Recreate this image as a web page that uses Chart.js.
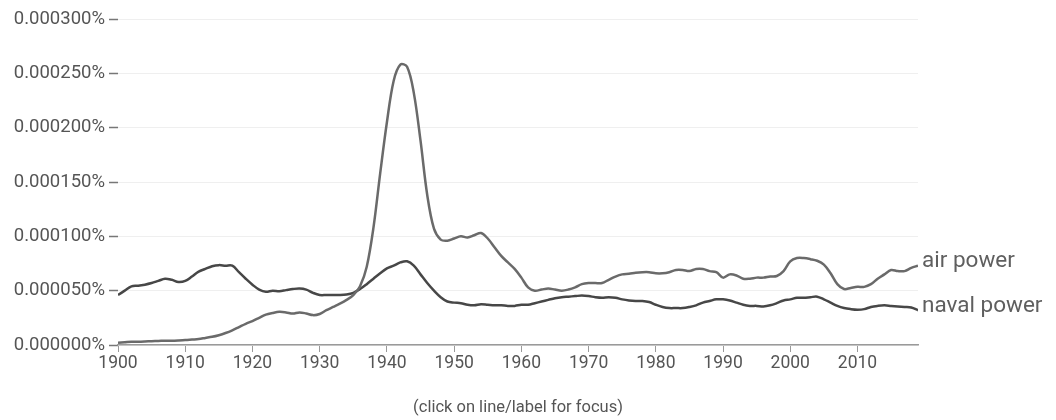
<!DOCTYPE html>
<html>
<head>
<meta charset="utf-8">
<script src="https://cdn.jsdelivr.net/npm/chart.js@4.4.1/dist/chart.umd.min.js"></script>
<style>
  html, body { margin: 0; padding: 0; background: #fff; }
  #wrap { width: 1056px; height: 420px; position: relative; }
</style>
</head>
<body>
<div id="wrap"><canvas id="c" width="1056" height="420"></canvas></div>
<script>
// Years 1900..2019
const startYear = 1900;
// values in millionths of a percent (x 1e-6 %)
const airPower = [
  2, 2.5, 3, 3, 3.2, 3.5, 3.7, 4, 4, 4.2,
  4.5, 5, 5.5, 6.5, 7.5, 9, 11, 13.5, 16.5, 19.5,
  22, 25, 28, 29.5, 30.5, 30, 29, 30, 29, 27.5,
  28.5, 32, 35, 38, 41.5, 46, 54, 72, 108, 158,
  205, 243, 258, 256, 232, 188, 138, 107, 97, 96,
  98, 100, 99, 101, 103, 98, 90, 82, 76, 70,
  62, 53, 50, 51, 52, 51, 50, 51, 53, 56,
  57, 57, 57, 60, 63, 65, 65.5, 66.5, 67, 67,
  66, 66, 67, 69, 69, 68, 70, 70, 68, 67,
  62, 65, 64, 61, 61, 62, 62, 63, 63.5, 68,
  77, 80, 80, 79, 77.5, 74, 66, 56, 51.5, 52.5,
  53.5, 53.5, 56, 61, 65, 69, 68, 68, 71, 73
];
const navalPower = [
  46, 50, 54, 54.5, 55.5, 57, 59, 61, 60, 58,
  59, 63, 67.5, 70, 72.5, 73.5, 73, 73, 67, 61,
  55.5, 51, 49, 50, 49.5, 50.5, 51.5, 52, 51, 48,
  46, 46, 46, 46, 46.5, 48, 51.5, 56, 61, 66,
  70.5, 73, 76, 77, 73, 65, 57, 50, 44, 40,
  39, 38.5, 37, 36.5, 37.5, 37, 36.5, 36.5, 36, 36,
  37, 37, 38.5, 40, 41.5, 43, 44, 44.5, 45, 45.5,
  45, 44, 43.5, 44, 43.5, 42, 41, 40.5, 40.5, 39.5,
  37, 35, 34, 34, 34, 35, 36.5, 39, 40.5, 42,
  42, 41, 39, 37, 36, 36, 35.5, 36.5, 38.5, 41,
  42, 43.5, 43.5, 44, 44.5, 42, 39, 36, 34, 33,
  32.5, 33, 35, 36, 36.5, 36, 35.5, 35, 34.5, 32
];
const seriesNames = ['air power', 'naval power'];
const yTicks = [0, 50, 100, 150, 200, 250, 300];
const xTicks = [1900, 1910, 1920, 1930, 1940, 1950, 1960, 1970, 1980, 1990, 2000, 2010];
const footerText = '(click on line/label for focus)';

const years = airPower.map((_, i) => startYear + i);
const toPts = arr => arr.map((v, i) => ({ x: years[i], y: v }));

const FONT = 'Roboto, "Noto Sans", sans-serif';

const endLabels = {
  id: 'endLabels',
  afterDatasetsDraw(chart) {
    const ctx = chart.ctx;
    ctx.save();
    ctx.font = '22.5px ' + FONT;
    ctx.fillStyle = '#5f5f5f';
    ctx.textAlign = 'left';
    ctx.textBaseline = 'middle';
    chart.data.datasets.forEach((ds, i) => {
      const meta = chart.getDatasetMeta(i);
      const last = meta.data[meta.data.length - 1];
      ctx.fillText(ds.label, last.x + 4, last.y - 4);
    });
    // footer
    ctx.font = '16.5px ' + FONT;
    ctx.textAlign = 'center';
    ctx.fillStyle = '#555';
    const ca = chart.chartArea;
    ctx.fillText(footerText, (ca.left + ca.right) / 2, 408);
    ctx.restore();
  }
};

new Chart(document.getElementById('c'), {
  type: 'line',
  data: {
    datasets: [
      { label: seriesNames[0], data: toPts(airPower), borderColor: '#6a6a6a', borderWidth: 2.5, pointRadius: 0, tension: 0.35, fill: false },
      { label: seriesNames[1], data: toPts(navalPower), borderColor: '#474747', borderWidth: 2.5, pointRadius: 0, tension: 0.35, fill: false }
    ]
  },
  options: {
    responsive: false,
    animation: false,
    events: [],
    layout: { padding: { left: 0, right: 138, top: 19, bottom: 0 } },
    plugins: { legend: { display: false }, tooltip: { enabled: false } },
    scales: {
      x: {
        type: 'linear',
        min: 1900, max: 2019,
        afterBuildTicks: s => { s.ticks = xTicks.map(v => ({ value: v })); },
        afterFit: s => { s.height = 75; },
        ticks: { font: { size: 17.5, family: FONT }, color: '#555', padding: 1, maxRotation: 0, callback: v => String(v) },
        grid: { display: true, drawOnChartArea: false, drawTicks: true, tickLength: 7, tickColor: '#9a9a9a', color: '#9a9a9a' },
        border: { display: true, color: '#9a9a9a', width: 1.5 }
      },
      y: {
        min: 0, max: 300,
        afterBuildTicks: s => { s.ticks = yTicks.map(v => ({ value: v })); },
        afterFit: s => { s.width = 118; },
        ticks: { font: { size: 18.5, family: FONT }, color: '#555', padding: 4, callback: v => (v / 1e6).toFixed(6) + '%' },
        grid: { color: '#efefef', lineWidth: 1, drawTicks: true, tickLength: 9, tickColor: '#777', tickWidth: 1.5 },
        border: { display: false }
      }
    }
  },
  plugins: [endLabels]
});
</script>
</body>
</html>
